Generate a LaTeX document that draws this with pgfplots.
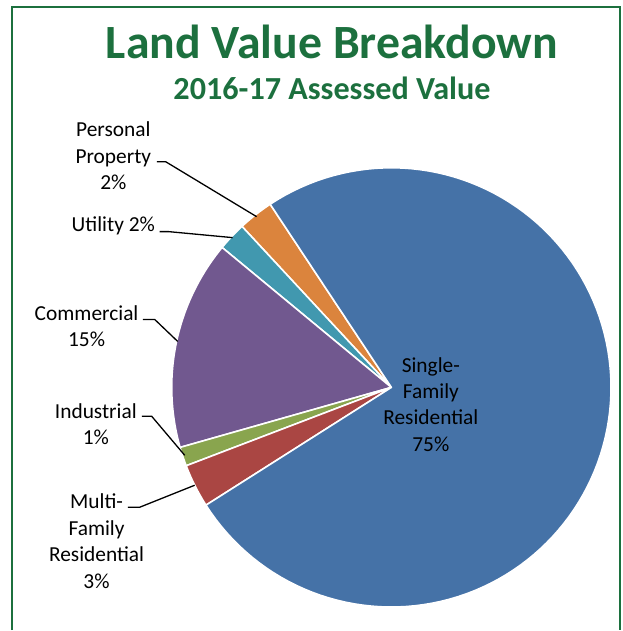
\documentclass[border=0pt]{standalone}
\usepackage{pgfplots}
\usepackage{pgfplotstable}
\pgfplotsset{compat=1.18}
\usepackage{fontspec}
\setmainfont{Carlito}

\definecolor{titlegreen}{RGB}{28,112,62}
\definecolor{cBlue}{HTML}{4572A7}
\definecolor{cRed}{HTML}{AA4643}
\definecolor{cGreen}{HTML}{89A54E}
\definecolor{cPurple}{HTML}{71588F}
\definecolor{cTeal}{HTML}{4198AF}
\definecolor{cOrange}{HTML}{DB843D}

% shares in percent, counter-clockwise from the start angle
\pgfplotstableread{
label value
Personal 2.6
Utility 2.1
Commercial 15.4
Industrial 1.4
Multi 3.2
Single 75.3
}\piedata

\pgfmathsetmacro{\aA}{123.5}
\pgfplotstablegetelem{0}{value}\of\piedata \pgfmathsetmacro{\aB}{\aA+3.6*\pgfplotsretval}
\pgfplotstablegetelem{1}{value}\of\piedata \pgfmathsetmacro{\aC}{\aB+3.6*\pgfplotsretval}
\pgfplotstablegetelem{2}{value}\of\piedata \pgfmathsetmacro{\aD}{\aC+3.6*\pgfplotsretval}
\pgfplotstablegetelem{3}{value}\of\piedata \pgfmathsetmacro{\aE}{\aD+3.6*\pgfplotsretval}
\pgfplotstablegetelem{4}{value}\of\piedata \pgfmathsetmacro{\aF}{\aE+3.6*\pgfplotsretval}
\pgfplotstablegetelem{5}{value}\of\piedata \pgfmathsetmacro{\aG}{\aF+3.6*\pgfplotsretval}

\def\cx{392}
\def\cy{388}
\def\rr{220}

\begin{document}
\begin{tikzpicture}
\begin{axis}[
  width=623pt, height=631pt, scale only axis,
  xmin=0, xmax=623, ymin=0, ymax=631, y dir=reverse,
  axis lines=none, clip=false,
  samples=120, variable=\t,
  slice/.style={draw=white, line width=1.6pt, line join=round},
]
\path (axis cs:0,0) rectangle (axis cs:623,631);
% frame
\draw[titlegreen, line width=2pt] (axis cs:12.5,631) -- (axis cs:12.5,7) -- (axis cs:621,7) -- (axis cs:621,631);

\addplot[slice, fill=cOrange, domain=\aA:\aB] ({\cx+\rr*cos(\t)},{\cy-\rr*sin(\t)}) -- (axis cs:\cx,\cy) -- cycle;
\addplot[slice, fill=cTeal, domain=\aB:\aC] ({\cx+\rr*cos(\t)},{\cy-\rr*sin(\t)}) -- (axis cs:\cx,\cy) -- cycle;
\addplot[slice, fill=cPurple, domain=\aC:\aD] ({\cx+\rr*cos(\t)},{\cy-\rr*sin(\t)}) -- (axis cs:\cx,\cy) -- cycle;
\addplot[slice, fill=cGreen, domain=\aD:\aE] ({\cx+\rr*cos(\t)},{\cy-\rr*sin(\t)}) -- (axis cs:\cx,\cy) -- cycle;
\addplot[slice, fill=cRed, domain=\aE:\aF] ({\cx+\rr*cos(\t)},{\cy-\rr*sin(\t)}) -- (axis cs:\cx,\cy) -- cycle;
\addplot[slice, fill=cBlue, domain=\aF:\aG] ({\cx+\rr*cos(\t)},{\cy-\rr*sin(\t)}) -- (axis cs:\cx,\cy) -- cycle;

% titles
\node[anchor=base, text=titlegreen, font=\fontsize{47.8}{52}\selectfont\bfseries] at (axis cs:332.5,59) {Land Value Breakdown};
\node[anchor=base, text=titlegreen, font=\fontsize{32.2}{36}\selectfont\bfseries] at (axis cs:332.5,99.5) {2016-17 Assessed Value};

% labels
\tikzset{lab/.style={align=center, font=\fontsize{21.4}{26.4}\selectfont, text=black, inner sep=0pt}}
\node[lab] at (axis cs:113.5,156) {Personal\\Property\\2\%};
\node[lab] at (axis cs:113.5,226) {Utility 2\%};
\node[lab] at (axis cs:86.7,327) {Commercial\\15\%};
\node[lab] at (axis cs:96,425) {Industrial\\1\%};
\node[lab] at (axis cs:96.7,542) {Multi-\\Family\\Residential\\3\%};
\node[lab] at (axis cs:431.5,405) {Single-\\Family\\Residential\\75\%};

% leader lines
\draw[black, line width=1.3pt] (axis cs:157,162) -- (axis cs:166,162) -- (axis cs:257,217);
\draw[black, line width=1.3pt] (axis cs:160,232) -- (axis cs:169,232) -- (axis cs:233,238);
\draw[black, line width=1.3pt] (axis cs:143,320) -- (axis cs:155,320) -- (axis cs:178,342);
\draw[black, line width=1.3pt] (axis cs:142,417) -- (axis cs:152,417) -- (axis cs:185,456);
\draw[black, line width=1.3pt] (axis cs:128,508) -- (axis cs:140,508) -- (axis cs:195,486);
\end{axis}
\end{tikzpicture}
\end{document}
